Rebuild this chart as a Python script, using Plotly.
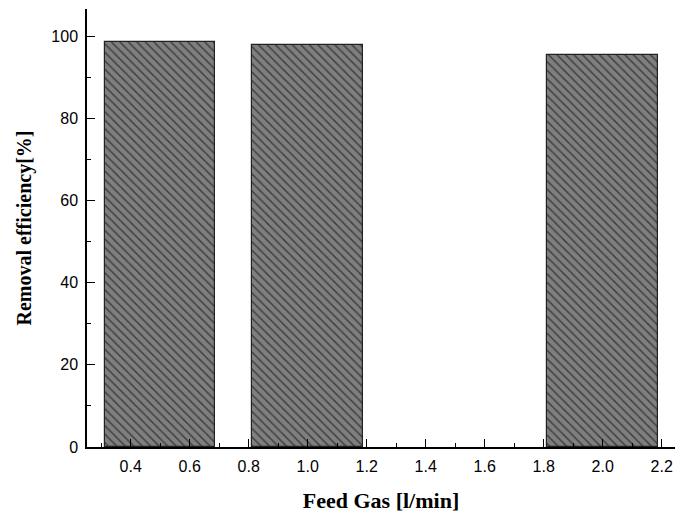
import plotly.graph_objects as go

feed_gas = [0.5, 1.0, 2.0]
removal_eff = [98.5, 97.8, 95.3]

x_tick_vals = [0.4, 0.6, 0.8, 1.0, 1.2, 1.4, 1.6, 1.8, 2.0, 2.2]
x_tick_text = ["0.4", "0.6", "0.8", "1.0", "1.2", "1.4", "1.6", "1.8", "2.0", "2.2"]
y_tick_vals = [0, 20, 40, 60, 80, 100]

fig = go.Figure()
fig.add_trace(go.Bar(
    x=feed_gas,
    y=removal_eff,
    width=0.375,
    marker=dict(
        color="#7a7a7a",
        line=dict(color="#222222", width=1.2),
        pattern=dict(shape="\\", size=6, solidity=0.25, fgcolor="black", bgcolor="#7f7f7f"),
    ),
    showlegend=False,
))

fig.update_layout(
    width=675, height=513,
    margin=dict(l=87, r=0, t=9, b=66),
    paper_bgcolor="white", plot_bgcolor="white",
    bargap=0,
    font=dict(family="Liberation Sans, Arial", size=16, color="black"),
    xaxis=dict(
        range=[0.252, 2.245],
        automargin=False,
        tickvals=x_tick_vals, ticktext=x_tick_text,
        ticks="inside", ticklen=8, tickwidth=1, tickcolor="black",
        showline=True, linecolor="black", linewidth=1.5,
        showgrid=False, zeroline=False,
        ticklabelstandoff=4,
        minor=dict(dtick=0.1, tick0=0.3, ticks="inside", ticklen=4, tickcolor="black", showgrid=False),
        tickfont=dict(family="Liberation Sans, Arial", size=16),
        title=dict(text="<b>Feed Gas [l/min]</b>",
                   font=dict(family="Liberation Serif, Times New Roman", size=22),
                   standoff=19),
    ),
    yaxis=dict(
        range=[0, 106.6],
        automargin=False,
        tickvals=y_tick_vals,
        ticks="inside", ticklen=8, tickwidth=1, tickcolor="black",
        showline=True, linecolor="black", linewidth=1.5,
        showgrid=False, zeroline=False,
        ticklabelstandoff=4,
        minor=dict(dtick=10, tick0=10, ticks="inside", ticklen=4, tickcolor="black", showgrid=False),
        tickfont=dict(family="Liberation Sans, Arial", size=16),
        title=dict(text="<b>Removal efficiency[%]</b>",
                   font=dict(family="Liberation Serif, Times New Roman", size=20),
                   standoff=14),
    ),
)

fig.write_html("out.html", config={"displayModeBar": False},
               post_script="document.body.style.margin='0px';")
